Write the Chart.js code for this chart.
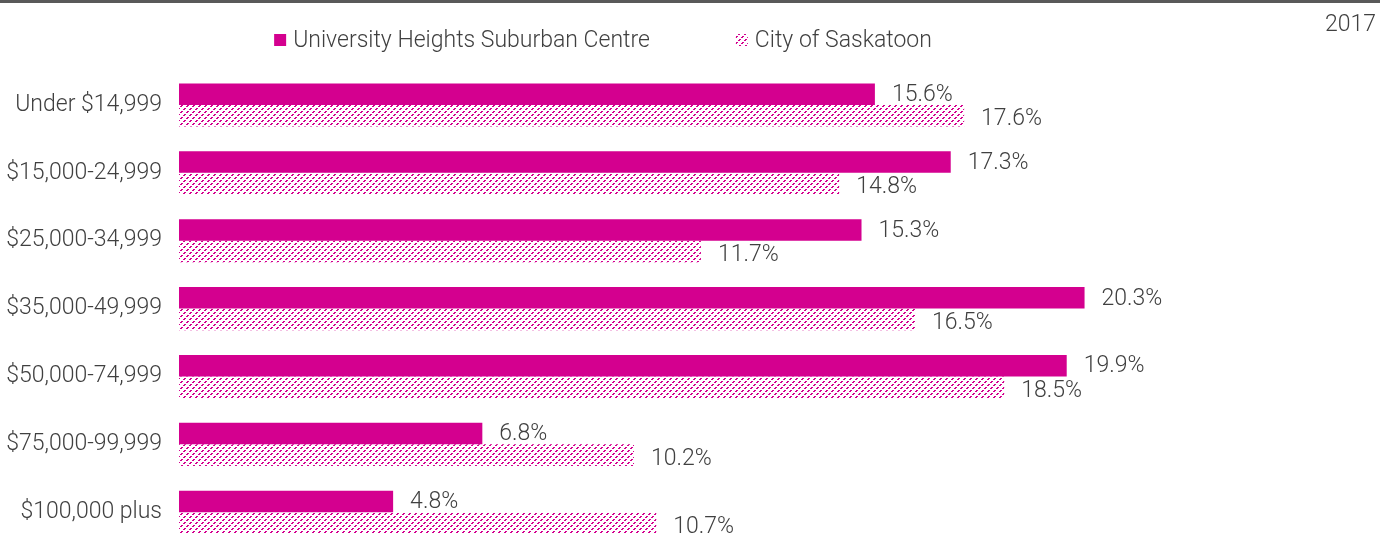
<!DOCTYPE html>
<html>
<head>
<meta charset="utf-8">
<script src="https://cdn.jsdelivr.net/npm/chart.js@4.4.1/dist/chart.umd.min.js"></script>
<style>
html, body { margin: 0; padding: 0; background: #fff; overflow: hidden; }
#wrap { position: relative; width: 1380px; height: 535px; overflow: hidden; }
#topbar { position: absolute; left: 0; top: 0; width: 1380px; height: 3px; background: #595959; }
#year { position: absolute; right: 4px; top: 10px; font: 300 23px Roboto, 'Liberation Sans', sans-serif; color: #404040; }
#chart { position: absolute; left: 0; top: 0; }
</style>
</head>
<body>
<div id="wrap">
  <canvas id="chart" width="1380" height="569"></canvas>
  <div id="topbar"></div>
  <div id="year">2017</div>
</div>
<script>
const categories = ["Under $14,999", "$15,000-24,999", "$25,000-34,999", "$35,000-49,999", "$50,000-74,999", "$75,000-99,999", "$100,000 plus"];
const universityHeights = [15.6, 17.3, 15.3, 20.3, 19.9, 6.8, 4.8];
const saskatoon = [17.6, 14.8, 11.7, 16.5, 18.5, 10.2, 10.7];
const seriesNames = ["University Heights Suburban Centre", "City of Saskatoon"];

const magenta = "#d4008f";
const textColor = "#404040";
const fontFamily = "Roboto, 'Liberation Sans', sans-serif";
const fontSize = 23;

// broken diagonal hatch like the office chart
function makeHatch(color) {
    const c = document.createElement("canvas");
    c.width = 6;
    c.height = 6;
    const g = c.getContext("2d");
    g.fillStyle = color;
    g.fillRect(4, 0, 2, 1);
    g.fillRect(3, 1, 2, 1);
    g.fillRect(1, 3, 2, 1);
    g.fillRect(0, 4, 2, 1);
    return g.createPattern(c, "repeat");
}
const ctx = document.getElementById("chart").getContext("2d");
const hatch = makeHatch(magenta);

const valueLabels = {
    id: "valueLabels",
    afterDatasetsDraw(chart) {
        const c = chart.ctx;
        c.save();
        c.font = "300 " + fontSize + "px " + fontFamily;
        c.fillStyle = textColor;
        c.textBaseline = "middle";
        chart.data.datasets.forEach((ds, i) => {
            chart.getDatasetMeta(i).data.forEach((bar, j) => {
                c.fillText(ds.data[j].toFixed(1) + "%", bar.x + 17, bar.y + (i === 1 ? 4 : 1));
            });
        });
        c.restore();
    }
};

const topLegend = {
    id: "topLegend",
    afterDraw(chart) {
        const c = chart.ctx;
        c.save();
        c.font = "300 " + fontSize + "px " + fontFamily;
        c.textBaseline = "middle";
        const box = 12, gap = 7, itemGap = 86, cy = 40, center = 603;
        const items = chart.data.datasets.map((ds) => ({ ds, w: box + gap + c.measureText(ds.label).width }));
        const total = items.reduce((s, it) => s + it.w, 0) + itemGap * (items.length - 1);
        let x = center - total / 2;
        items.forEach((it) => {
            c.fillStyle = it.ds.backgroundColor;
            c.fillRect(x, cy - box / 2, box, box);
            c.fillStyle = textColor;
            c.fillText(it.ds.label, x + box + gap, cy + 1);
            x += it.w + itemGap;
        });
        c.restore();
    }
};

const data = {
    labels: categories,
    datasets: [
        { label: seriesNames[0], data: universityHeights, backgroundColor: magenta, borderWidth: 0 },
        { label: seriesNames[1], data: saskatoon, backgroundColor: hatch, borderWidth: 0 }
    ]
};

const myChart = new Chart(ctx, {
    type: "bar",
    data: data,
    options: {
        indexAxis: "y",
        responsive: false,
        devicePixelRatio: 1,
        animation: false,
        barPercentage: 1,
        categoryPercentage: 0.635,
        layout: { padding: { top: 71, right: 175, bottom: 2, left: 0 } },
        plugins: { legend: { display: false }, tooltip: { enabled: false } },
        scales: {
            x: { display: false, min: 0, max: 23 },
            y: {
                afterFit: (s) => { s.width = 179; },
                grid: { display: false },
                border: { display: false },
                ticks: { color: textColor, padding: 9, font: { size: fontSize, family: fontFamily, weight: 300 } }
            }
        }
    },
    plugins: [valueLabels, topLegend]
});
</script>
</body>
</html>
